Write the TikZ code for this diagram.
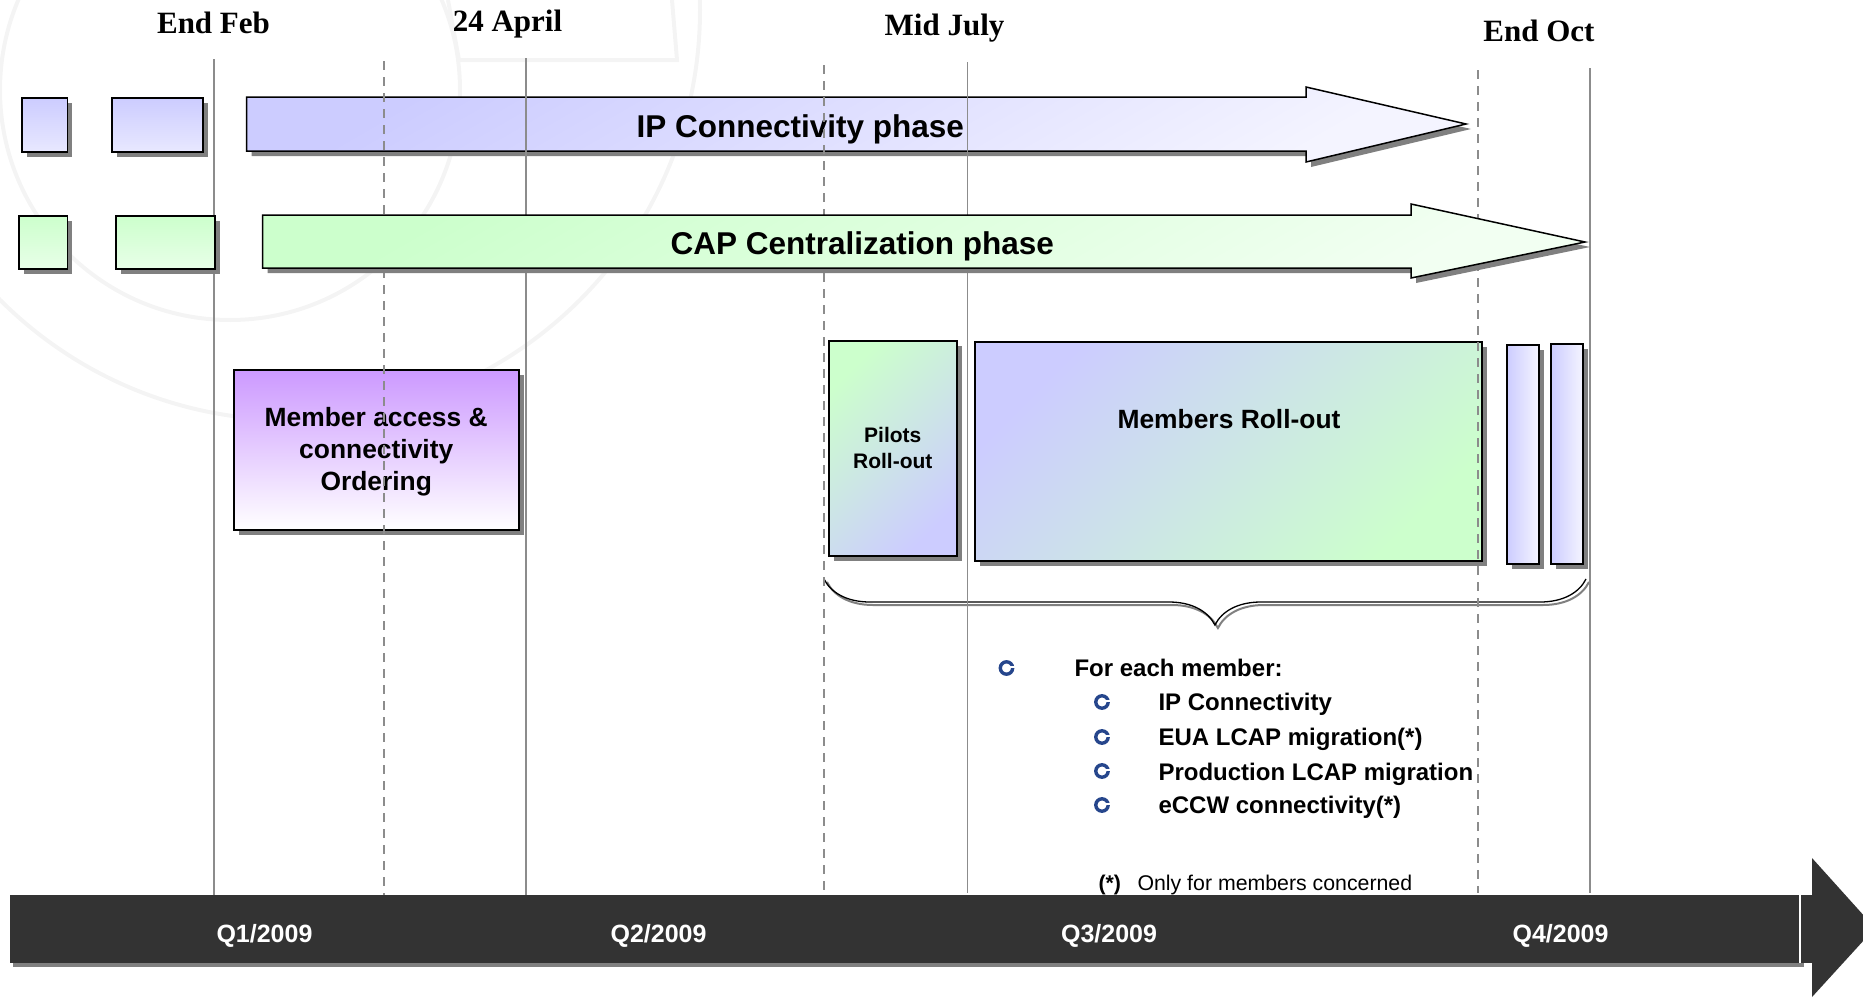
\documentclass[tikz,border=0pt]{standalone}
\usepackage{fontspec}
\setmainfont{Liberation Sans}
\newfontfamily\headfont{Liberation Serif}
\usetikzlibrary{shadows,decorations.pathreplacing,calc}
\definecolor{lav}{RGB}{204,204,255}
\definecolor{lavlight}{RGB}{244,244,255}
\definecolor{mint}{RGB}{204,255,204}
\definecolor{mintlight}{RGB}{242,255,242}
\definecolor{purp}{RGB}{204,153,255}
\definecolor{shadowgray}{RGB}{128,128,128}
\definecolor{bardark}{RGB}{51,51,51}
\definecolor{bulletblue}{RGB}{38,70,140}
\definecolor{linegray}{RGB}{140,140,140}
\definecolor{wm}{RGB}{244,244,244}
\begin{document}
\begin{tikzpicture}[x=1pt,y=-1pt,
  box/.style={rectangle, draw=black, line width=1.5pt, inner sep=0pt, anchor=north west,
     drop shadow={shadow xshift=5pt, shadow yshift=-5pt, fill=shadowgray, opacity=1}},
  vline/.style={draw=linegray, line width=1.2pt},
  dline/.style={vline, dash pattern=on 9pt off 7pt},
  heading/.style={anchor=base, font=\headfont\bfseries\fontsize{31}{36}\selectfont},
  phasetext/.style={anchor=base west, font=\bfseries\fontsize{31.5}{36}\selectfont},
  boxfont/.style={font=\bfseries\fontsize{26.4}{32}\selectfont},
  itemtext/.style={anchor=base west, font=\bfseries\fontsize{24}{28}\selectfont},
  qtext/.style={anchor=base, text=white, font=\bfseries\fontsize{25}{30}\selectfont},
  bulletring/.style={draw=bulletblue, line width=3.4pt},
  wmark/.style={draw=wm, line width=4pt},
]
\useasboundingbox (0,0) rectangle (1863,999);

% faint watermark
\draw[wmark] (230,90) circle[radius=230];
\draw[wmark] (290,10) circle[radius=410];
\draw[wmark] (448,0) -- (459,60) -- (677,60) -- (672,0);

% IP connectivity row
\node[box, minimum width=45.5pt, minimum height=54pt, top color=lav, bottom color=lav!45!white] (ipa) at (21,97) {};
\node[box, minimum width=91pt, minimum height=54pt, top color=lav, bottom color=lav!45!white] (ipb) at (111,97) {};
\fill[shadowgray, shift={(5,5)}] (246.5,97) -- (1306,97) -- (1306,87) -- (1466,124) -- (1306,162) -- (1306,151) -- (246.5,151) -- cycle;
\path[draw=black, line width=1.5pt, top color=lav, bottom color=lavlight, shading angle=30]
  (246.5,97) -- (1306,97) -- (1306,87) -- (1466,124) -- (1306,162) -- (1306,151) -- (246.5,151) -- cycle;
\node[phasetext] (iptext) at (633,137) {IP Connectivity phase};

% boxes
\node[box, minimum width=285pt, minimum height=160pt, top color=purp, middle color=purp!45!white, bottom color=white, boxfont, align=center] (order) at (233,369) {\rule{0pt}{24pt}Member access \&\\connectivity\\Ordering};
\node[box, minimum width=128pt, minimum height=215pt, top color=mint, bottom color=lav, shading angle=45, align=center, font=\bfseries\fontsize{21}{26}\selectfont] (pilots) at (828,340) {Pilots\\Roll-out};
\node[box, minimum width=507pt, minimum height=219pt, top color=lav, bottom color=mint, shading angle=45] (members) at (974,341) {};
\node[anchor=base, boxfont] (memberslbl) at (1229,428) {Members Roll-out};
\node[box, minimum width=32pt, minimum height=219pt, left color=lav, right color=lavlight] (extra1) at (1506,344) {};
\node[box, minimum width=32pt, minimum height=220pt, left color=lav, right color=lavlight] (extra2) at (1550,343) {};

% brace
\coordinate (braceL) at (824,579);
\coordinate (braceR) at (1586,579);
\draw[shadowgray, line width=2pt, decorate, decoration={brace, mirror, amplitude=46pt, aspect=0.513}] ($(braceL)+(3,3)$) -- ($(braceR)+(3,3)$);
\draw[black, line width=1.3pt, decorate, decoration={brace, mirror, amplitude=46pt, aspect=0.513}] (braceL) -- (braceR);

% vertical milestone lines
\draw[vline] (214,59) -- (214,895);
\draw[dline] (384,61) -- (384,895);
\draw[vline] (526,58) -- (526,895);
\draw[dline] (824,65) -- (824,895);
\draw[vline] (967.5,62) -- (967.5,893);
\draw[dline] (1478,70) -- (1478,893);
\draw[vline] (1590,68) -- (1590,893);

% CAP centralization row
\node[box, minimum width=48.5pt, minimum height=53pt, top color=mint, bottom color=mint!45!white] (capa) at (18,215) {};
\node[box, minimum width=99pt, minimum height=53pt, top color=mint, bottom color=mint!45!white] (capb) at (115,215) {};
\fill[shadowgray, shift={(5,5)}] (262.5,215) -- (1411,215) -- (1411,204) -- (1585,242) -- (1411,278) -- (1411,268) -- (262.5,268) -- cycle;
\path[draw=black, line width=1.5pt, top color=mint, bottom color=mintlight, shading angle=30]
  (262.5,215) -- (1411,215) -- (1411,204) -- (1585,242) -- (1411,278) -- (1411,268) -- (262.5,268) -- cycle;
\node[phasetext] (captext) at (667,254) {CAP Centralization phase};

% headings
\node[heading] (endfeb) at (213.5,33) {End Feb};
\node[heading] (april) at (507.5,31) {24 April};
\node[heading] (july) at (944.5,35.5) {Mid July};
\node[heading] (oct) at (1539,41) {End Oct};

% list
\coordinate (b0) at (1006.5,668);
\coordinate (b1) at (1102,702);
\coordinate (b2) at (1102,737);
\coordinate (b3) at (1102,771);
\coordinate (b4) at (1102,805);
\foreach \b in {b0,b1,b2,b3,b4}{
  \draw[bulletring] (\b) circle[radius=6.2];
  \fill[white] ($(\b)+(2,-2.2)$) rectangle ($(\b)+(9,0.2)$);
}
\node[itemtext] (each) at (1071,676) {For each member:};
\node[itemtext] (it1) at (1155,710) {IP Connectivity};
\node[itemtext] (it2) at (1155,745) {EUA LCAP migration(*)};
\node[itemtext] (it3) at (1155,780) {Production LCAP migration};
\node[itemtext] (it4) at (1155,813) {eCCW connectivity(*)};
\node[anchor=base west, font=\bfseries\fontsize{21.3}{25}\selectfont] (star) at (1095,890) {(*)};
\node[anchor=base west, font=\fontsize{21.3}{25}\selectfont] (only) at (1134,890) {Only for members concerned};

% timeline bar
\fill[shadowgray] (13,899) rectangle (1804,967);
\fill[bardark] (9.5,895) rectangle (1812,963);
\draw[white, line width=1.2pt] (1800,895) -- (1800,963);
\fill[bardark] (1812,858) -- (1875,928) -- (1812,997) -- cycle;
\node[qtext] (q1) at (264.5,942) {Q1/2009};
\node[qtext] (q2) at (658.5,942) {Q2/2009};
\node[qtext] (q3) at (1109,942) {Q3/2009};
\node[qtext] (q4) at (1560.5,942) {Q4/2009};
\end{tikzpicture}
\end{document}
